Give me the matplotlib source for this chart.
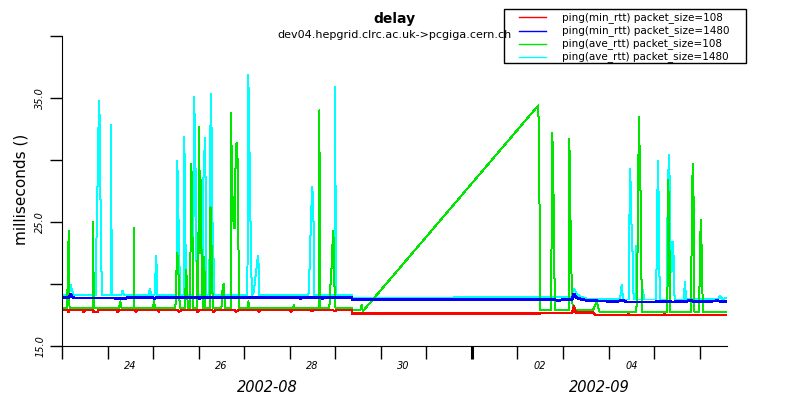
import datetime as dt
import matplotlib
matplotlib.use("Agg")
import matplotlib.pyplot as plt
from matplotlib.lines import Line2D
from matplotlib.patches import Rectangle
from matplotlib.transforms import blended_transform_factory

# time axis: days since 2002-08-23 00:00, values in milliseconds
start = dt.date(2002, 8, 23)
x_end = 14.6

title = "delay"
subtitle = "dev04.hepgrid.clrc.ac.uk->pcgiga.cern.ch"
ylabel = "milliseconds ()"

names = ["ping(min_rtt) packet_size=108", "ping(min_rtt) packet_size=1480",
         "ping(ave_rtt) packet_size=108", "ping(ave_rtt) packet_size=1480"]
colors = ["#ff0000", "#0000ff", "#00e600", "#00ffff"]

red = [(0.00, 17.88), (0.13, 17.88), (0.14, 17.72), (0.16, 17.88), (0.45, 17.88),
       (0.47, 17.76), (0.50, 17.88), (0.68, 17.88), (0.70, 17.72), (0.78, 17.72),
       (0.80, 17.88), (1.20, 17.88), (1.22, 17.75), (1.26, 17.88), (1.60, 17.88),
       (1.62, 17.76), (1.66, 17.9), (2.10, 17.9), (2.12, 17.78), (2.15, 17.9),
       (2.55, 17.9), (2.57, 17.76), (2.62, 17.9), (2.95, 17.9), (2.97, 17.74),
       (3.02, 17.88), (3.30, 17.88), (3.33, 17.76), (3.36, 17.88), (3.80, 17.88),
       (3.82, 17.75), (3.86, 17.88), (4.30, 17.88), (4.33, 17.78), (4.36, 17.9),
       (5.00, 17.9), (5.03, 17.78), (5.06, 17.9), (5.45, 17.9), (5.48, 17.8),
       (5.52, 17.9), (5.95, 17.9), (5.98, 17.8), (6.02, 17.88), (6.36, 17.88),
       (6.37, 17.63), (10.50, 17.63), (10.60, 17.68), (11.20, 17.68), (11.24, 18.2),
       (11.28, 17.7), (11.66, 17.7), (11.70, 17.5), (12.40, 17.5), (12.43, 17.56),
       (12.46, 17.5), (13.20, 17.5), (13.23, 17.56), (13.26, 17.5), (14.59, 17.5)]

blue = [(0.00, 18.92), (0.16, 18.92), (0.19, 19.17), (0.23, 18.95), (0.27, 18.87),
        (1.00, 18.87), (1.40, 18.85), (1.45, 18.9), (2.00, 18.9), (2.03, 18.82),
        (2.06, 18.9), (3.00, 18.9), (3.02, 18.82), (3.05, 18.9), (4.00, 18.88),
        (5.20, 18.9), (5.23, 18.82), (5.26, 18.9), (5.70, 18.9), (5.72, 18.82),
        (5.75, 18.9), (6.36, 18.9), (6.37, 18.77), (6.45, 18.72), (6.50, 18.77),
        (10.80, 18.77), (10.85, 18.7), (10.95, 18.7), (11.00, 18.77), (11.20, 18.77),
        (11.24, 19.2), (11.28, 18.95), (11.40, 18.75), (11.60, 18.65), (12.20, 18.6),
        (12.30, 18.7), (12.40, 18.55), (13.00, 18.55), (13.30, 18.6), (13.40, 18.55),
        (13.70, 18.6), (13.80, 18.7), (13.90, 18.55), (14.20, 18.6), (14.40, 18.65),
        (14.50, 18.55), (14.59, 18.6)]

green = [(0.00, 18.05), (0.10, 18.05), (0.105, 19.5), (0.125, 19.5), (0.132, 22.6),
         (0.154, 24.3), (0.165, 18.05), (0.68, 18.05), (0.687, 25.0), (0.695, 18.05),
         (1.25, 18.05), (1.28, 18.6), (1.31, 18.05), (1.575, 18.05), (1.581, 24.5),
         (1.59, 18.05), (2.00, 18.05), (2.02, 18.7), (2.04, 18.05),
         (2.49, 18.05), (2.503, 20.2), (2.532, 22.5), (2.553, 21.3), (2.575, 19.0),
         (2.59, 18.05), (2.70, 18.05), (2.722, 21.1), (2.745, 20.2), (2.76, 18.05),
         (2.81, 18.05), (2.825, 23.9), (2.839, 29.7), (2.86, 26.8), (2.875, 18.05),
         (2.96, 18.05), (2.97, 21.9), (2.985, 19.0), (3.00, 25.5), (3.014, 32.7),
         (3.022, 24.0), (3.03, 29.1), (3.037, 22.5), (3.044, 28.4), (3.055, 24.0),
         (3.074, 21.0), (3.09, 18.05), (3.11, 18.05), (3.124, 22.2), (3.14, 18.05),
         (3.24, 18.05), (3.26, 26.2), (3.29, 22.1), (3.31, 18.05),
         (3.50, 18.05), (3.527, 19.65), (3.55, 20.0), (3.58, 18.05),
         (3.70, 18.05), (3.717, 33.8), (3.725, 26.5), (3.732, 31.1), (3.747, 25.8),
         (3.78, 24.5), (3.80, 24.5), (3.813, 31.3), (3.849, 31.4), (3.871, 24.7),
         (3.885, 18.05), (4.07, 18.05), (4.09, 18.6), (4.11, 18.05),
         (5.07, 18.05), (5.09, 18.3), (5.11, 18.05),
         (5.64, 18.05), (5.649, 34.0), (5.66, 26.0), (5.67, 18.05),
         (5.87, 18.05), (5.884, 19.5), (5.91, 20.6), (5.935, 22.9), (5.956, 24.3),
         (5.97, 22.6), (5.99, 18.2), (6.01, 18.05), (6.36, 18.05), (6.37, 17.9),
         (6.55, 17.9), (6.58, 18.3), (6.60, 17.9), (6.615, 17.85),
         (10.457, 34.4), (10.478, 30.3), (10.49, 21.9), (10.50, 17.9),
         (10.74, 17.9), (10.75, 25.0), (10.764, 32.2), (10.78, 29.9), (10.80, 25.0),
         (10.82, 17.9), (11.13, 17.9), (11.137, 31.7), (11.15, 29.4), (11.165, 24.9),
         (11.19, 20.05), (11.21, 18.2), (11.25, 17.9), (11.66, 17.9), (11.739, 18.6),
         (11.80, 17.77), (12.61, 17.77), (12.63, 20.5), (12.653, 29.5), (12.67, 33.5),
         (12.68, 30.9), (12.705, 26.9), (12.73, 17.77), (13.29, 17.77), (13.31, 28.4),
         (13.333, 24.6), (13.35, 17.77), (13.81, 17.77), (13.824, 23.7), (13.846, 29.7),
         (13.868, 26.6), (13.885, 17.77), (13.99, 17.77), (14.007, 23.2), (14.029, 25.2),
         (14.05, 21.4), (14.07, 17.77), (14.59, 17.77)]

cyan = [(0.00, 19.1), (0.15, 19.1), (0.19, 19.9), (0.22, 19.5), (0.26, 19.1),
        (0.740, 19.1), (0.746, 21.7), (0.775, 26.8), (0.797, 32.1), (0.819, 34.8),
        (0.834, 30.8), (0.856, 23.0), (0.878, 19.1), (1.075, 19.1), (1.082, 32.8),
        (1.090, 19.1), (1.30, 19.1), (1.33, 19.45), (1.36, 19.1), (1.90, 19.1),
        (1.93, 19.6), (1.96, 19.1), (2.03, 19.1), (2.05, 20.5), (2.064, 22.3),
        (2.08, 21.2), (2.093, 19.1), (2.51, 19.1), (2.532, 29.9), (2.553, 26.0),
        (2.575, 22.5), (2.59, 19.1), (2.67, 19.1), (2.685, 31.9), (2.707, 25.4),
        (2.72, 19.1), (2.88, 19.1), (2.898, 35.1), (2.92, 32.4), (2.94, 26.8),
        (2.96, 19.1), (3.09, 19.1), (3.102, 28.1), (3.124, 30.5), (3.146, 31.8),
        (3.165, 19.1), (3.235, 19.1), (3.249, 31.2), (3.278, 35.3), (3.293, 26.2),
        (3.322, 23.0), (3.34, 19.1), (4.07, 19.1), (4.09, 36.9), (4.105, 33.6),
        (4.127, 28.0), (4.15, 22.1), (4.17, 19.1), (4.21, 19.4), (4.259, 20.9),
        (4.288, 21.9), (4.31, 22.3), (4.33, 19.1), (5.41, 19.1), (5.43, 20.7),
        (5.46, 24.4), (5.48, 26.6), (5.496, 27.8), (5.52, 25.6), (5.54, 19.1),
        (5.99, 19.1), (6.00, 35.9), (6.01, 19.1), (6.36, 19.1), (6.37, 18.85),
        (8.59, 18.85), (8.60, 18.95), (11.20, 18.95), (11.24, 19.6), (11.30, 19.2),
        (11.40, 18.95), (11.55, 18.8), (12.25, 18.75), (12.288, 19.9), (12.32, 18.75),
        (12.44, 18.75), (12.455, 24.1), (12.47, 29.3), (12.49, 27.5), (12.507, 24.1),
        (12.53, 22.2), (12.55, 18.75), (12.59, 18.75), (12.61, 23.1), (12.63, 18.75),
        (12.745, 18.75), (12.76, 19.5), (12.775, 18.75), (13.04, 18.75), (13.055, 21.7),
        (13.07, 27.0), (13.09, 29.9), (13.11, 21.9), (13.13, 18.75), (13.275, 18.75),
        (13.29, 24.6), (13.31, 28.9), (13.333, 30.4), (13.35, 24.4), (13.385, 21.0),
        (13.42, 23.4), (13.44, 19.25), (13.46, 18.75), (13.65, 18.75), (13.677, 20.2),
        (13.70, 18.75), (14.40, 18.8), (14.45, 19.0), (14.50, 18.8), (14.59, 18.85)]

y_ticks = [15, 20, 25, 30, 35, 40]
y_ticklabels = ["15.0", "", "25.0", "", "35.0", ""]

W, H = 788, 399
fig = plt.figure(figsize=(W / 100, H / 100), dpi=100)
ax = fig.add_axes([62 / W, 1 - 346 / H, (727 - 62) / W, (346 - 36) / H])

series = [red, blue, green, cyan]
widths = [1.0, 1.3, 0.72, 0.72]
for idx in [3, 2, 1, 0]:
    xs = [p[0] for p in series[idx]]
    ys = [p[1] for p in series[idx]]
    ax.plot(xs, ys, color=colors[idx], lw=widths[idx], antialiased=False)

ax.set_xlim(0, x_end)
ax.set_ylim(15, 40)
for s in ["top", "right"]:
    ax.spines[s].set_visible(False)

# one major tick per day, labels at noon of even days
ax.set_xticks(range(15))
ax.set_xticklabels([])
lab_pos, lab_txt = [], []
for d in range(15):
    day = start + dt.timedelta(days=d)
    if day.day % 2 == 0 and d + 1 <= x_end:
        lab_pos.append(d + 0.5)
        lab_txt.append(day.strftime("%d"))
ax.set_xticks(lab_pos, minor=True)
ax.set_xticklabels(lab_txt, minor=True, fontsize=7, style="italic")
ax.tick_params(axis="x", which="major", length=9, width=1)
ax.tick_params(axis="x", which="minor", length=0, pad=11)
for i, t in enumerate(ax.xaxis.get_major_ticks()):
    if (start + dt.timedelta(days=i)).day == 1:
        t.tick1line.set_markeredgewidth(2.2)

ax.set_yticks(y_ticks)
ax.set_yticklabels(y_ticklabels, fontsize=7, style="italic", rotation=90, va="center")
ax.tick_params(axis="y", length=9, width=1, pad=3)

# month labels under the days
trans = blended_transform_factory(ax.transData, ax.transAxes)
month_start = (dt.date(2002, 9, 1) - start).days
ax.text(month_start / 2, -0.135, "2002-08", transform=trans, ha="center", va="center",
        fontsize=10.5, style="italic")
ax.text((month_start + x_end) / 2, -0.135, "2002-09", transform=trans, ha="center",
        va="center", fontsize=10.5, style="italic")

fig.text(21.5 / W, 1 - 189 / H, ylabel, rotation=90, ha="center", va="center", fontsize=11)
fig.text(0.5, 1 - 19 / H, title, ha="center", va="center", fontsize=10, fontweight="bold")
fig.text(0.5, 1 - 35 / H, subtitle, ha="center", va="center", fontsize=8)

# legend box
fig.add_artist(Rectangle((504 / W, 1 - 63 / H), 242 / W, 54 / H, transform=fig.transFigure,
                         fill=False, edgecolor="black", lw=1))
rows = [17.3, 30.7, 43.6, 56.7]
for name, c, r in zip(names, colors, rows):
    fig.add_artist(Line2D([519 / W, 546 / W], [1 - r / H, 1 - r / H],
                          transform=fig.transFigure, color=c, lw=1))
    fig.text(562 / W, 1 - r / H, name, ha="left", va="center", fontsize=7.5)

fig.savefig("out.png", dpi=100)
